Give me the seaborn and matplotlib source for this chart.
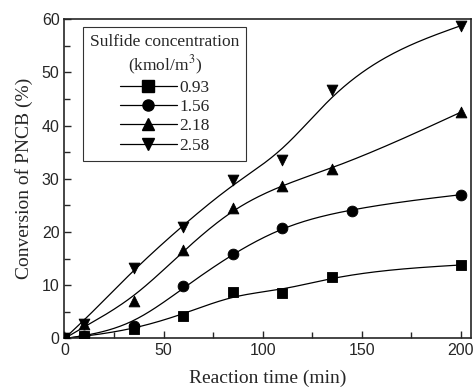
import numpy as np
import pandas as pd
import seaborn as sns
import matplotlib
matplotlib.use("Agg")
import matplotlib.pyplot as plt
from matplotlib.ticker import MultipleLocator

time_093 = [0, 10, 35, 60, 85, 110, 135, 200]
conv_093 = [0, 0.4, 1.8, 4.3, 8.7, 8.5, 11.6, 13.8]
time_156 = [0, 10, 35, 60, 85, 110, 145, 200]
conv_156 = [0, 0.5, 2.4, 9.9, 15.8, 20.8, 24.0, 27.0]
time_218 = [0, 10, 35, 60, 85, 110, 135, 200]
conv_218 = [0, 2.7, 7.0, 16.6, 24.5, 28.6, 31.8, 42.5]
time_258 = [0, 10, 35, 60, 85, 110, 135, 200]
conv_258 = [0, 2.7, 13.2, 21.0, 29.8, 33.6, 46.7, 58.7]
labels = ["0.93", "1.56", "2.18", "2.58"]
markers = ["s", "o", "^", "v"]

series = [(time_093, conv_093), (time_156, conv_156),
          (time_218, conv_218), (time_258, conv_258)]
rows = []
for lab, (t, c) in zip(labels, series):
    for ti, ci in zip(t, c):
        rows.append({"time": ti, "conv": ci, "conc": lab})
df = pd.DataFrame(rows)


def smooth(x, y, lam=2000):
    # whittaker smoother on a 1-min grid, only used to draw the fit line
    grid = np.arange(0, 201, 1.0)
    n = len(grid)
    w = np.zeros(n)
    z = np.zeros(n)
    for xi, yi in zip(x, y):
        i = int(round(xi))
        w[i] = 1.0
        z[i] = yi
    w[0] = 50.0
    w[-1] = 5.0
    D = np.diff(np.eye(n), 2, axis=0)
    A = np.diag(w) + lam * D.T @ D
    return grid, np.linalg.solve(A, w * z)


sns.set_style("ticks")
plt.rcParams["font.family"] = ["Liberation Serif", "DejaVu Serif"]
plt.rcParams["mathtext.fontset"] = "stix"

fig = plt.figure(figsize=(4.74, 3.92), dpi=100)
ax = fig.add_axes([0.136, 0.1365, 0.857, 0.815])

for lab, m in zip(labels, markers):
    d = df[df["conc"] == lab]
    sx, sy = smooth(d["time"], d["conv"])
    ax.plot(sx, sy, color="black", lw=0.9)
    sns.scatterplot(data=d, x="time", y="conv", marker=m, color="black",
                    s=60, edgecolor="black", ax=ax, legend=False, zorder=3)

handles = [plt.Line2D([], [], color="black", lw=0.9, marker=m, markersize=8)
           for m in markers]
leg = ax.legend(handles, labels, title="Sulfide concentration\n(kmol/m$^3$)",
                loc="upper left", bbox_to_anchor=(0.046, 0.975), fontsize=12.5,
                title_fontsize=12.5, frameon=True, fancybox=False,
                edgecolor="black", handlelength=3.3, handletextpad=0.15,
                labelspacing=0.18, borderpad=0.4, borderaxespad=0)
leg.get_frame().set_linewidth(0.8)
leg.get_title().set_multialignment("center")

ax.set_xlim(0, 205)
ax.set_ylim(0, 60)
ax.xaxis.set_major_locator(MultipleLocator(50))
ax.xaxis.set_minor_locator(MultipleLocator(25))
ax.yaxis.set_major_locator(MultipleLocator(10))
ax.yaxis.set_minor_locator(MultipleLocator(5))
ax.tick_params(which="both", direction="in", top=False, right=False,
               labelsize=11.5, width=1)
ax.tick_params(which="major", length=5)
ax.tick_params(which="minor", length=4)
for t in ax.get_xticklabels() + ax.get_yticklabels():
    t.set_family(["Liberation Sans", "DejaVu Sans"])
for sp in ax.spines.values():
    sp.set_linewidth(1.2)
    sp.set_visible(True)

ax.set_xlabel("Reaction time (min)", fontsize=14, labelpad=8)
ax.set_ylabel("Conversion of PNCB (%)", fontsize=14, labelpad=6)

fig.savefig("out.png", dpi=100)
